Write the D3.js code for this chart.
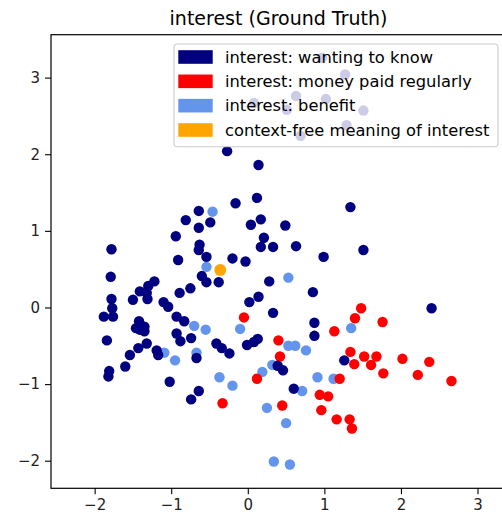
<!DOCTYPE html>
<html>
<head>
<meta charset="utf-8">
<script src="https://cdn.jsdelivr.net/npm/d3@7"></script>
<style>
  html, body { margin: 0; padding: 0; background: #fff; }
  svg { display: block; font-family: "DejaVu Sans", sans-serif; }
</style>
</head>
<body>
<svg id="chart" width="502" height="517"></svg>
<script>
// ---------- data ----------
const title = "interest (Ground Truth)";
const seriesLabels = [
  "interest: wanting to know",
  "interest: money paid regularly",
  "interest: benefit",
  "context-free meaning of interest"
];
const seriesColors = ["#000080", "#ff0000", "#6495ed", "#ffa500"];
const xTicks = [-2, -1, 0, 1, 2, 3];
const yTicks = [-2, -1, 0, 1, 2, 3];

const wantingToKnow = [
  [-0.27,2.04],[0.14,1.86],[0.12,1.43],[-0.16,1.36],[-0.64,1.26],[-0.81,1.14],[-0.49,1.11],
  [-0.64,1.04],[0.04,1.08],[0.17,1.15],[0.49,1.07],[0.21,0.91],[0.17,0.79],[0.33,0.79],
  [0.63,0.80],[0.99,0.66],[1.34,1.31],[1.51,0.75],[-0.94,0.93],[-0.63,0.82],[-0.64,0.75],
  [-1.78,0.76],[-0.91,0.62],[-0.54,0.66],[-0.20,0.64],[-0.03,0.60],[-1.79,0.40],[-0.60,0.41],
  [-0.54,0.33],[-0.38,0.33],[-0.75,0.25],[-0.89,0.19],[-1.22,0.34],[-1.30,0.28],[-1.41,0.21],
  [-1.32,0.19],[-1.31,0.11],[-1.50,0.10],[-1.78,0.11],[-1.77,-0.01],[-1.88,-0.12],[-1.76,-0.12],
  [-1.10,0.07],[-1.04,0.01],[-0.93,-0.12],[-0.83,-0.18],[0.02,0.07],[0.14,0.14],[0.28,0.34],
  [0.33,-0.07],[0.85,0.20],[0.87,-0.20],[0.87,-0.37],[2.40,-0.01],[-1.42,-0.18],[-1.46,-0.27],
  [-1.41,-0.29],[-1.35,-0.25],[-1.35,-0.31],[-0.93,-0.34],[-0.88,-0.44],[-0.74,-0.40],[-1.84,-0.43],
  [0.13,-0.41],[0.08,-0.45],[-0.01,-0.49],[-0.41,-0.47],[-0.34,-0.53],[-0.24,-0.60],[-1.32,-0.47],
  [-1.43,-0.53],[-1.19,-0.56],[-1.17,-0.62],[-1.54,-0.62],[-1.60,-0.77],[-1.81,-0.83],[-1.82,-0.90],
  [-1.02,-0.97],[-0.67,-0.66],[-0.64,-1.09],[-0.74,-1.20],[0.39,-0.76],[0.46,-0.82],[0.60,-1.06],
  [1.26,-0.69],[0.97,3.26],[1.27,3.04],[0.63,2.76],[1.02,2.72],[1.51,2.57],[0.51,2.58],
  [0.08,2.67],[1.29,2.38],[0.69,2.24]
];
const moneyPaid = [
  [-0.05,-0.13],[0.12,-0.93],[-0.33,-1.25],[0.40,-0.43],[0.42,-0.64],[0.45,-1.28],[1.13,-0.31],
  [1.48,-0.01],[1.40,-0.14],[1.76,-0.19],[1.34,-0.58],[1.39,-0.74],[1.52,-0.64],[1.68,-0.64],
  [1.61,-0.75],[1.77,-0.86],[2.02,-0.67],[2.37,-0.71],[2.22,-0.88],[2.66,-0.96],[1.20,-0.93],
  [0.94,-1.14],[1.05,-1.16],[0.96,-1.34],[1.16,-1.46],[1.33,-1.46],[1.36,-1.58]
];
const benefit = [
  [-0.46,1.25],[-0.54,0.53],[-0.70,-0.24],[-0.55,-0.29],[-0.10,-0.28],[-1.09,-0.59],[-0.95,-0.69],
  [-0.67,-0.59],[-0.37,-0.91],[-0.20,-1.02],[0.19,-0.84],[0.32,-0.75],[0.25,-1.31],[0.53,0.39],
  [0.53,-0.50],[0.62,-0.50],[0.76,-0.56],[0.91,-0.91],[1.12,-0.93],[0.71,-1.09],[0.50,-1.51],
  [0.34,-2.01],[0.55,-2.05],[1.35,-0.27]
];
const contextFree = [[-0.36,0.49]];

// ---------- layout ----------
const svg = d3.select("#chart");
const W = 502, H = 517;
const plot = { left: 51, right: 506, top: 34.7, bottom: 488.3 };

const x = d3.scaleLinear().domain([-2.57, 3.372]).range([plot.left, plot.right]);
const y = d3.scaleLinear().domain([-2.36, 3.56]).range([plot.bottom, plot.top]);

svg.append("rect").attr("width", W).attr("height", H).attr("fill", "#fff");

// title
svg.append("text")
  .attr("x", (plot.left + plot.right) / 2)
  .attr("y", 25)
  .attr("text-anchor", "middle")
  .attr("font-size", 19)
  .attr("fill", "#000")
  .text(title);

// clip
svg.append("clipPath").attr("id", "clip")
  .append("rect")
  .attr("x", plot.left).attr("y", plot.top)
  .attr("width", plot.right - plot.left).attr("height", plot.bottom - plot.top);

const g = svg.append("g").attr("clip-path", "url(#clip)");

function drawSeries(data, color, r) {
  g.append("g").selectAll("circle")
    .data(data)
    .join("circle")
    .attr("cx", d => x(d[0]))
    .attr("cy", d => y(d[1]))
    .attr("r", r)
    .attr("fill", color);
}
drawSeries(benefit, seriesColors[2], 5.2);
drawSeries(moneyPaid, seriesColors[1], 5.2);
drawSeries(wantingToKnow, seriesColors[0], 5.2);
drawSeries(contextFree, seriesColors[3], 6);

// axes
const fmt = d => (d < 0 ? "\u2212" + Math.abs(d) : String(d));
const xAxis = d3.axisBottom(x).tickValues(xTicks).tickSize(6).tickPadding(5).tickFormat(fmt);
const yAxis = d3.axisLeft(y).tickValues(yTicks).tickSize(6).tickPadding(5).tickFormat(fmt);

const gx = svg.append("g").attr("transform", `translate(0,${plot.bottom})`).call(xAxis);
const gy = svg.append("g").attr("transform", `translate(${plot.left},0)`).call(yAxis);
[gx, gy].forEach(a => {
  a.select(".domain").remove();
  a.selectAll(".tick line").attr("stroke", "#000").attr("stroke-width", 1.1);
  a.selectAll(".tick text").attr("font-size", 15).attr("fill", "#222")
    .attr("font-family", "DejaVu Sans, sans-serif");
});

// spines
svg.append("rect")
  .attr("x", plot.left).attr("y", plot.top)
  .attr("width", plot.right - plot.left).attr("height", plot.bottom - plot.top)
  .attr("fill", "none").attr("stroke", "#000").attr("stroke-width", 1.2);

// legend
const leg = svg.append("g");
const legBox = { left: 174, top: 44, width: 324, height: 102.7 };
leg.append("rect")
  .attr("x", legBox.left).attr("y", legBox.top)
  .attr("width", legBox.width).attr("height", legBox.height)
  .attr("rx", 3.5).attr("ry", 3.5)
  .attr("fill", "#fff").attr("fill-opacity", 0.8)
  .attr("stroke", "#cccccc").attr("stroke-width", 1.1);

const rowY = d3.scaleLinear().domain([0, 3]).range([57, 130]);
seriesLabels.forEach((lab, i) => {
  leg.append("rect")
    .attr("x", 178.3).attr("y", rowY(i) - 6.8)
    .attr("width", 34.4).attr("height", 13.6)
    .attr("fill", seriesColors[i]);
  leg.append("text")
    .attr("x", 225).attr("y", rowY(i) + 5.7)
    .attr("font-size", 16.3).attr("fill", "#000")
    .text(lab);
});
</script>
</body>
</html>
